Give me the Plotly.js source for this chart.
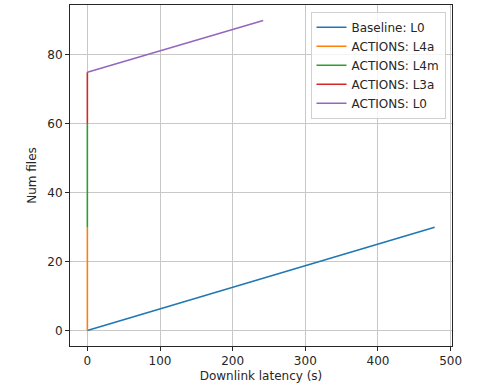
<!DOCTYPE html>
<html>
<head>
<meta charset="utf-8">
<script src="https://cdn.plot.ly/plotly-3.0.1.min.js"></script>
<style>html,body{margin:0;padding:0;background:#fff;}#chart{width:482px;height:388px;}</style>
</head>
<body>
<div id="chart"></div>
<script>
// Series data
var seriesNames = ["Baseline: L0", "ACTIONS: L4a", "ACTIONS: L4m", "ACTIONS: L3a", "ACTIONS: L0"];
var seriesColors = ["#1f77b4", "#ff7f0e", "#2ca02c", "#d62728", "#9467bd"];
var baselineL0_x = [0, 478];
var baselineL0_y = [0, 30];
var actionsL4a_x = [0, 0];
var actionsL4a_y = [0, 30];
var actionsL4m_x = [0, 0];
var actionsL4m_y = [30, 60];
var actionsL3a_x = [0, 0];
var actionsL3a_y = [60, 75];
var actionsL0_x = [0, 242];
var actionsL0_y = [75, 90];
var xTicks = [0, 100, 200, 300, 400, 500];
var yTicks = [0, 20, 40, 60, 80];

var xs = [baselineL0_x, actionsL4a_x, actionsL4m_x, actionsL3a_x, actionsL0_x];
var ys = [baselineL0_y, actionsL4a_y, actionsL4m_y, actionsL3a_y, actionsL0_y];

var traces = seriesNames.map(function (name, i) {
  return {
    x: xs[i], y: ys[i], name: name, type: "scatter", mode: "lines",
    line: {color: seriesColors[i], width: 1.6}
  };
});

var font = {family: "DejaVu Sans, sans-serif", size: 12, color: "#262626"};

var axisCommon = {
  showline: true, mirror: true, linecolor: "#262626", linewidth: 1,
  ticks: "outside", ticklen: 4, tickwidth: 1, tickcolor: "#262626",
  showgrid: true, gridcolor: "#c8c8c8", gridwidth: 1,
  zeroline: false, tickfont: font
};

var layout = {
  width: 482, height: 388,
  margin: {l: 70, r: 30, t: 5, b: 42},
  paper_bgcolor: "#fff", plot_bgcolor: "#fff",
  font: font,
  showlegend: true,
  xaxis: Object.assign({}, axisCommon, {
    range: [-23.9, 501.9], tickmode: "array", tickvals: xTicks,
    title: {text: "Downlink latency (s)", font: font, standoff: 4}
  }),
  yaxis: Object.assign({}, axisCommon, {
    range: [-4.5, 94.5], tickmode: "array", tickvals: yTicks,
    title: {text: "Num files", font: font, standoff: 8}
  }),
  legend: {
    x: 0.983, y: 0.98, xanchor: "right", yanchor: "top",
    bgcolor: "rgba(255,255,255,0.8)", bordercolor: "#d0d0d0", borderwidth: 1,
    font: font, tracegroupgap: 0
  }
};

Plotly.newPlot("chart", traces, layout, {displayModeBar: false, staticPlot: true});
</script>
</body>
</html>
